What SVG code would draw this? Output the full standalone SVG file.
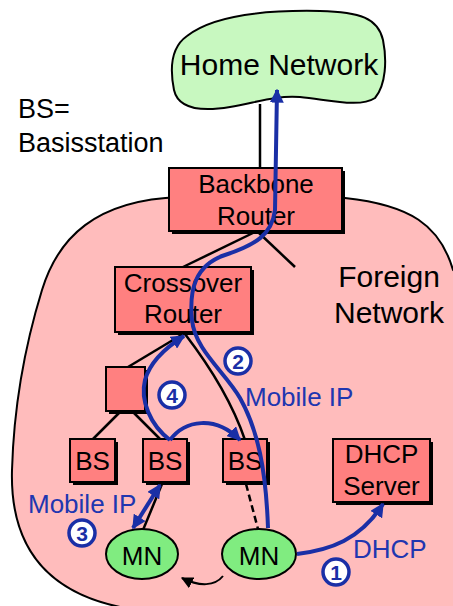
<svg xmlns="http://www.w3.org/2000/svg" width="453" height="606" viewBox="0 0 453 606">
<defs>
<style>
.t{font-family:"Liberation Sans",Arial,sans-serif;font-size:26px;fill:#000}
.c{text-anchor:middle}
.b{fill:#2036b0}
.box{fill:#ff8080;stroke:#000;stroke-width:2}
.sh{fill:#000}
.ln{stroke:#000;stroke-width:2.5;fill:none}
.bl{stroke:#1a2fa6;stroke-width:4;fill:none}
.num circle{fill:#fff;stroke:#1a2fa6;stroke-width:3.5}
.num text{font-family:"Liberation Sans",Arial,sans-serif;font-weight:bold;font-size:21px;fill:#1a2fa6;text-anchor:middle}
.mn{fill:#80ec80;stroke:#000;stroke-width:2}
</style>
<marker id="ah" viewBox="0 0 10 10" refX="9" refY="5" markerWidth="14" markerHeight="14" markerUnits="userSpaceOnUse" orient="auto-start-reverse">
<path d="M0,0 L10,5 L0,10 z" fill="#1a2fa6"/>
</marker>
<marker id="ak" viewBox="0 0 10 10" refX="9" refY="5" markerWidth="12" markerHeight="12" markerUnits="userSpaceOnUse" orient="auto">
<path d="M0,0 L10,5 L0,10 z" fill="#000"/>
</marker>
</defs>
<rect width="453" height="606" fill="#fff"/>

<g id="foreign-network">
<path d="M460,275 L453,270 C440,225 410,205 345,198 L180,197 C95,200 58,238 42,290 C26,342 14,400 12,470 C10,540 40,592 125,608 L460,612 Z" fill="#ffbcbc" stroke="#000" stroke-width="2"/>
<text class="t c" x="389" y="287" style="font-size:30px">Foreign</text>
<text class="t c" x="389" y="323" style="font-size:30px">Network</text>
</g>

<g id="home-network">
<path d="M187,36 C215,14 270,10 320,11 C360,12 378,18 383,40 C387,60 386,85 375,98 C360,108 330,100 300,97 C275,95 255,103 230,107 C200,112 178,108 174,90 C170,70 170,48 187,36 Z" fill="#c8f8c0" stroke="#000" stroke-width="2"/>
<text class="t c" x="279" y="75" style="font-size:30px">Home Network</text>
</g>

<g id="legend">
<text class="t" x="18" y="118" style="font-size:27px">BS=</text>
<text class="t" x="18" y="152" style="font-size:27px">Basisstation</text>
</g>

<g id="connectors">
<line class="ln" x1="260" y1="104" x2="260" y2="168"/>
<line class="ln" x1="255" y1="232" x2="183" y2="267"/>
<line class="ln" x1="258" y1="232" x2="295" y2="267"/>
<line class="ln" x1="183" y1="334" x2="128" y2="367"/>
<path class="ln" d="M185,334 Q228,390 245,440"/>
<line class="ln" x1="120" y1="412" x2="93" y2="439"/>
<line class="ln" x1="133" y1="412" x2="160" y2="439"/>
<line class="ln" x1="162" y1="484" x2="143" y2="530"/>
<line class="ln" x1="246" y1="484" x2="258" y2="529" stroke-dasharray="7,4"/>
<path d="M223,576 C215,586 200,587 182,578" fill="none" stroke="#000" stroke-width="2" marker-end="url(#ak)"/>
</g>

<g id="backbone-router">
<rect class="sh" x="172" y="171" width="173" height="63"/>
<rect class="box" x="169" y="168" width="173" height="63"/>
<text class="t c" x="256" y="193">Backbone</text>
<text class="t c" x="256" y="225">Router</text>
</g>

<g id="crossover-router">
<rect class="sh" x="118" y="270" width="136" height="65"/>
<rect class="box" x="115" y="267" width="136" height="65"/>
<text class="t c" x="183" y="292">Crossover</text>
<text class="t c" x="183" y="323">Router</text>
</g>

<g id="router-small">
<rect class="sh" x="109" y="370" width="39" height="44"/>
<rect class="box" x="106" y="367" width="39" height="44"/>
</g>

<g id="bs1">
<rect class="sh" x="73" y="442" width="45" height="43"/>
<rect class="box" x="70" y="439" width="45" height="43"/>
<text class="t c" x="92.5" y="470">BS</text>
</g>
<g id="bs2">
<rect class="sh" x="146" y="442" width="44" height="43"/>
<rect class="box" x="143" y="439" width="44" height="43"/>
<text class="t c" x="165" y="470">BS</text>
</g>
<g id="bs3">
<rect class="sh" x="226" y="442" width="44" height="43"/>
<rect class="box" x="223" y="439" width="44" height="43"/>
<text class="t c" x="245" y="470">BS</text>
</g>
<g id="dhcp-server">
<rect class="sh" x="336" y="442" width="97" height="63"/>
<rect class="box" x="333" y="439" width="97" height="63"/>
<text class="t c" x="381.5" y="463">DHCP</text>
<text class="t c" x="381.5" y="495">Server</text>
</g>

<g id="mn1">
<ellipse class="mn" cx="142" cy="554" rx="36" ry="25"/>
<text class="t c" x="142" y="565">MN</text>
</g>
<g id="mn2">
<ellipse class="mn" cx="259" cy="554" rx="37" ry="25"/>
<text class="t c" x="259" y="565">MN</text>
</g>

<g id="flows">
<path class="bl" d="M268,528 C266,470 258,430 240,398 C225,372 195,350 192,320 C189,290 195,265 225,255 C255,245 272,235 275,210 L277,90" marker-end="url(#ah)"/>
<path class="bl" d="M170,440 C150,425 140,400 145,380 C150,362 165,348 184,336" marker-end="url(#ah)"/>
<path class="bl" d="M170,440 C185,420 215,415 240,440" marker-end="url(#ah)"/>
<path class="bl" d="M297,554 C330,550 360,540 383,504" marker-end="url(#ah)"/>
<path class="bl" d="M160,485 L133,528" marker-start="url(#ah)" marker-end="url(#ah)" stroke-width="4.5"/>
<text class="t b" x="245" y="406">Mobile IP</text>
<text class="t b" x="28" y="513">Mobile IP</text>
<text class="t b" x="353" y="558">DHCP</text>
<g class="num"><circle cx="238" cy="361" r="13"/><text x="238" y="368.5">2</text></g>
<g class="num"><circle cx="172" cy="395" r="13"/><text x="172" y="402.5">4</text></g>
<g class="num"><circle cx="82" cy="533" r="13"/><text x="82" y="540.5">3</text></g>
<g class="num"><circle cx="336" cy="572" r="13"/><text x="336" y="579.5">1</text></g>
</g>
</svg>
